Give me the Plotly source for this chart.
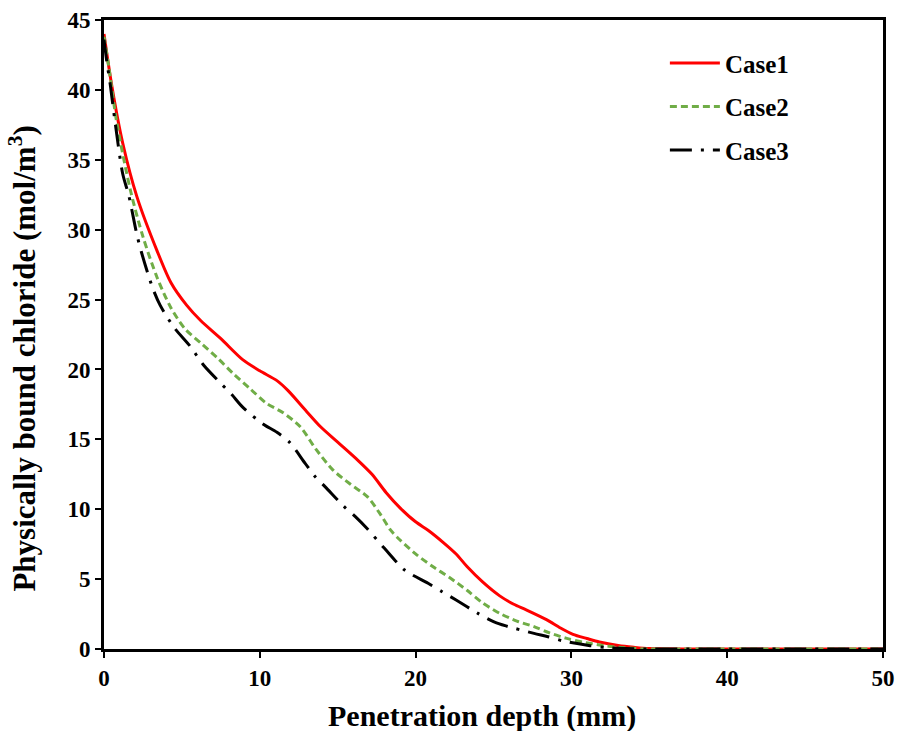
import plotly.graph_objects as go

# Penetration depth (mm) and physically bound chloride (mol/m3) for each case
case1_depth = [0, 0.5, 1.2, 2.1, 3.4, 4.3, 5.3, 6.2, 7.5, 8.9, 10.0, 11.1, 11.8, 13.0, 13.9,
               15.0, 16.2, 17.2, 18.1, 19.0, 20.0, 20.8, 21.8, 22.6, 23.3, 24.3, 25.4, 26.3,
               27.1, 28.4, 29.3, 30.1, 31.0, 31.8, 33.0, 34.0, 35.0, 40, 45, 50]
case1_chloride = [44.0, 40.3, 36.2, 32.4, 28.5, 26.2, 24.6, 23.5, 22.2, 20.7, 19.9, 19.2, 18.5,
                  17.0, 15.9, 14.8, 13.6, 12.5, 11.2, 10.1, 9.1, 8.5, 7.6, 6.8, 5.9, 4.8, 3.8,
                  3.2, 2.8, 2.1, 1.5, 1.05, 0.75, 0.5, 0.25, 0.12, 0.03, 0, 0, 0]

case2_depth = [0, 0.3, 0.8, 1.7, 2.5, 3.4, 4.3, 5.2, 6.2, 7.3, 8.3, 9.4, 10.4, 11.5, 12.6,
               13.6, 14.7, 15.8, 16.9, 17.7, 18.4, 19.0, 20.0, 21.1, 22.2, 23.3, 24.3, 25.4,
               26.5, 27.6, 28.6, 29.7, 30.7, 31.8, 33.0, 34.0, 35.0, 40, 45, 50]
case2_chloride = [43.8, 41.7, 37.8, 32.8, 29.5, 26.6, 24.4, 22.9, 21.9, 20.8, 19.7, 18.6, 17.6,
                  16.9, 15.9, 14.3, 12.8, 11.8, 10.9, 9.7, 8.5, 7.8, 6.8, 5.9, 5.1, 4.2, 3.3,
                  2.55, 2.0, 1.6, 1.15, 0.76, 0.5, 0.29, 0.12, 0.05, 0.0, 0, 0, 0]

case3_depth = [0, 0.17, 0.4, 0.7, 1.2, 1.6, 2.1, 2.4, 3.1, 3.6, 4.5, 5.5, 6.4, 7.5, 8.2, 8.9,
               10.2, 11.1, 11.9, 12.9, 13.5, 14.2, 15.4, 16.1, 16.9, 18.0, 19.3, 20.8, 21.7,
               22.6, 24.0, 25.0, 25.8, 27.6, 28.5, 29.5, 31.2, 32.3, 33.5, 35, 40, 45, 50]
case3_chloride = [43.6, 42.1, 40.4, 37.8, 34.0, 32.4, 29.7, 28.4, 25.9, 24.6, 23.0, 21.7, 20.3,
                  19.0, 18.2, 17.3, 16.1, 15.5, 14.8, 13.3, 12.4, 11.6, 10.2, 9.5, 8.6, 7.2,
                  5.65, 4.7, 4.1, 3.5, 2.55, 1.96, 1.65, 1.12, 0.88, 0.57, 0.24, 0.1, 0.03,
                  0, 0, 0, 0]

x_ticks = [0, 10, 20, 30, 40, 50]
y_ticks = [0, 5, 10, 15, 20, 25, 30, 35, 40, 45]

FONT = "Liberation Serif"

fig = go.Figure()
fig.add_trace(go.Scatter(
    x=case1_depth, y=case1_chloride, mode="lines", name="<b>Case1</b>",
    legendgroup="c1", line=dict(color="#FF0000", width=3, shape="spline", smoothing=0.8),
))
fig.add_trace(go.Scatter(
    x=case2_depth, y=case2_chloride, mode="lines", name="<b>Case2</b>",
    legendgroup="c2", line=dict(color="#70AD47", width=3, shape="spline", smoothing=0.8,
                                dash="7px,4px"),
))
fig.add_trace(go.Scatter(
    x=case3_depth, y=case3_chloride, mode="lines", name="<b>Case3</b>",
    legendgroup="c3", line=dict(color="#000000", width=3, shape="spline", smoothing=0.8,
                                dash="22px,9px,3px,9px"),
))

axis_common = dict(
    showline=True, linecolor="black", linewidth=3, mirror=True,
    ticks="outside", ticklen=6, tickwidth=2, tickcolor="black",
    showgrid=False, zeroline=False, layer="below traces", automargin=False,
    tickfont=dict(family=FONT, size=23, color="black", weight="bold"),
)

fig.update_layout(
    width=902, height=731,
    margin=dict(l=104, r=19, t=20, b=82),
    paper_bgcolor="white", plot_bgcolor="white",
    font=dict(family=FONT, color="black"),
    xaxis=dict(range=[0, 50], tickvals=x_ticks, **axis_common),
    yaxis=dict(range=[0, 45], tickvals=y_ticks, **axis_common),
    legend=dict(
        x=0.72, y=0.968, xanchor="left", yanchor="top",
        font=dict(family=FONT, size=25, color="black"),
        bgcolor="rgba(0,0,0,0)", itemwidth=50,
        traceorder="grouped", tracegroupgap=8,
    ),
    showlegend=True,
)

# Axis titles
fig.add_annotation(
    text="<b>Penetration depth (mm)</b>",
    xref="paper", yref="paper", x=0.485, y=-0.1065,
    xanchor="center", yanchor="middle", showarrow=False,
    font=dict(family=FONT, size=30, color="black"),
)
fig.add_annotation(
    text="<b>Physically bound chloride (mol/m<sup>3</sup>)</b>",
    xref="paper", yref="paper", x=-0.105, y=0.462,
    xanchor="center", yanchor="middle", textangle=-90, showarrow=False,
    font=dict(family=FONT, size=31, color="black"),
)

fig.write_html("out.html")
